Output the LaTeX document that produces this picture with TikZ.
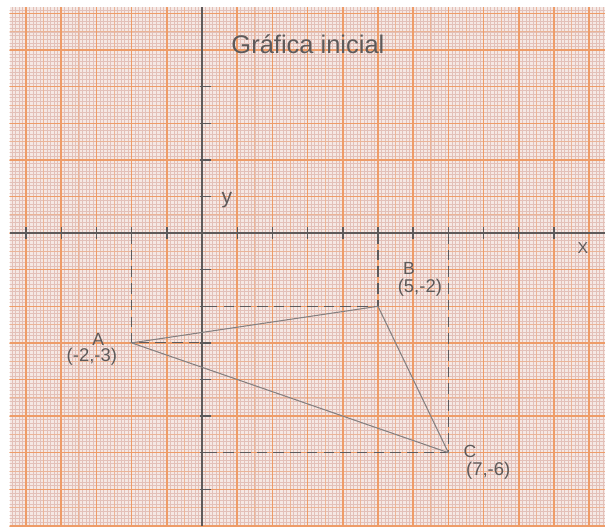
\documentclass[tikz,border=0pt]{standalone}
\usepackage{fontspec}
\setmainfont{Liberation Sans}
\usetikzlibrary{backgrounds}
\definecolor{paperP}{HTML}{F5E8E4}
\definecolor{fineO}{HTML}{E3C0B8}
\definecolor{midO}{HTML}{EBB497}
\definecolor{heavyO}{HTML}{EE9C68}
\definecolor{pencilG}{HTML}{5E5A5A}
\definecolor{pencilL}{HTML}{858080}

\begin{document}
\begin{tikzpicture}[x=0.704cm,y=0.732cm,
    pencil/.style={pencilG,line width=0.8pt},
    guide/.style={pencilG,line width=0.6pt,dash pattern=on 6pt off 3.5pt},
    side/.style={pencilL,line width=0.6pt},
    hand/.style={pencilG,inner sep=0pt,font=\fontsize{10}{10}\selectfont}]
  \useasboundingbox (-5.74,-8.01) rectangle (11.45,6.37);
  \fill[white] (-5.74,-8.01) rectangle (11.45,6.37);
  % millimetre paper
  \fill[paperP] (-5.47,-8.01) rectangle (11.45,6.17);
  \begin{scope}
    \clip (-5.47,-8.01) rectangle (11.45,6.17);
    \draw[fineO,line width=0.3pt] (-5.6,-8.1) grid[step=0.1] (11.5,6.2);
    \draw[midO,line width=0.4pt] (-5.6,-8.1) grid[step=0.5] (11.5,6.2);
    \draw[heavyO,line width=0.85pt] (-5.6,-8.1) grid[step=1] (11.5,6.2);
  \end{scope}
  % axes
  \coordinate (O) at (0,0);
  \draw[pencil] (-5.47,0) -- (11.45,0);
  \draw[pencil] (0,6.17) -- (0,-8.01);
  \foreach \i in {-5,-4,-3,-2,-1,1,2,...,10}
    \draw[pencil] (\i,-0.17) -- (\i,0.17);
  \foreach \j in {-7,-6,-5,-4,-3,-2,-1,1,2,3,4}
    \draw[pencil] (-0.05,\j) -- (0.25,\j);
  \node[hand,font=\fontsize{12}{12}\selectfont] (ylab) at (0.71,0.9) {y};
  \node[hand,font=\fontsize{9}{9}\selectfont] (xlab) at (10.82,-0.41) {X};
  \node[hand,font=\fontsize{14.5}{14.5}\selectfont] (title) at (3.01,5.16) {Gráfica inicial};
  % vertices
  \coordinate (A) at (-2,-3);
  \coordinate (B) at (5,-2);
  \coordinate (C) at (7,-6);
  \draw[guide] (A |- O) -- (A) -- (A -| O);
  \draw[guide] (B |- O) -- (B) -- (B -| O);
  \draw[guide] (C |- O) -- (C) -- (C -| O);
  \draw[side] (A) -- (B) -- (C) -- cycle;
  \node[hand] (nameA) at (-2.95,-2.9) {A};
  \node[hand,font=\fontsize{10.5}{10.5}\selectfont] (crdA) at (-3.13,-3.39) {(-2,-3)};
  \node[hand] (nameB) at (5.88,-0.96) {B};
  \node[hand,font=\fontsize{10.5}{10.5}\selectfont] (crdB) at (6.19,-1.5) {(5,-2)};
  \node[hand] (nameC) at (7.61,-5.96) {C};
  \node[hand,font=\fontsize{10.5}{10.5}\selectfont] (crdC) at (8.13,-6.48) {(7,-6)};
\end{tikzpicture}
\end{document}
